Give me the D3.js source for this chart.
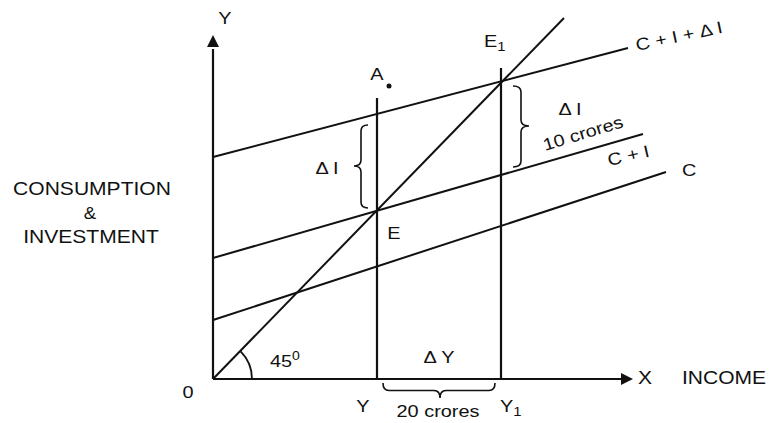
<!DOCTYPE html>
<html>
<head>
<meta charset="utf-8">
<script src="https://cdn.jsdelivr.net/npm/d3@7"></script>
<style>
  body { margin: 0; background: #fff; }
  text { font-family: "Liberation Sans", Arial, sans-serif; fill: #111; }
</style>
</head>
<body>
<script>
var w = 771;
var h = 423;

// income / expenditure units
var incomeLevels = [164, 288];            // Y, Y1
var incomeNames = ["Y", "Y1"];
var verticalTops = [281, 311];            // where the dotted verticals stop
var lineNames = ["C", "C + I", "C + I + \u0394I", "45"];
var lineStarts = [[0, 59], [0, 121], [0, 222], [0, 0]];
var lineEnds = [[453, 207], [430, 245], [415, 331], [351, 361]];
var equilibria = [[164, 167], [288, 294]]; // E, E1
var deltaI = 10;   // crores
var deltaY = 20;   // crores

var x = d3.scaleLinear().domain([0, 420]).range([213, 633]);
var y = d3.scaleLinear().domain([0, 344]).range([379, 35]);

var svg = d3.select("body")
            .append("svg")
            .attr("width", w)
            .attr("height", h);

var ink = "#111";
var sx = 1.17; // scanned lettering is a bit wide

function label(txt, px, py, size, anchor, rot) {
  var t = svg.append("text")
      .attr("transform", "translate(" + px + "," + py + ") rotate(" + (rot || 0) + ") scale(" + sx + ",1)")
      .attr("font-size", size)
      .attr("text-anchor", anchor || "middle");
  return t.text(txt);
}

function sub(base, s, px, py, size) {
  var t = svg.append("text")
      .attr("transform", "translate(" + px + "," + py + ") scale(" + sx + ",1)")
      .attr("font-size", size)
      .attr("text-anchor", "start");
  t.append("tspan").text(base);
  t.append("tspan").attr("font-size", size * 0.75).attr("dy", 4).text(s);
}

// axes
svg.append("line")
   .attr("x1", x(0)).attr("y1", y(0))
   .attr("x2", x(0)).attr("y2", y(330))
   .attr("stroke", ink).attr("stroke-width", 2.2);
svg.append("line")
   .attr("x1", x(0)).attr("y1", y(0))
   .attr("x2", x(410)).attr("y2", y(0))
   .attr("stroke", ink).attr("stroke-width", 2.2);
svg.append("path")
   .attr("d", "M" + (x(0) - 6) + "," + (y(344) + 12) + "L" + x(0) + "," + y(344) + "L" + (x(0) + 6) + "," + (y(344) + 12) + "Z")
   .attr("fill", ink);
svg.append("path")
   .attr("d", "M" + (x(420) - 12) + "," + (y(0) - 6) + "L" + x(420) + "," + y(0) + "L" + (x(420) - 12) + "," + (y(0) + 6) + "Z")
   .attr("fill", ink);

// schedules and the 45 degree line
svg.selectAll("line.sched")
   .data(lineNames)
   .enter()
   .append("line")
   .attr("class", "sched")
   .attr("x1", (d, i) => x(lineStarts[i][0]))
   .attr("y1", (d, i) => y(lineStarts[i][1]))
   .attr("x2", (d, i) => x(lineEnds[i][0]))
   .attr("y2", (d, i) => y(lineEnds[i][1]))
   .attr("stroke", ink)
   .attr("stroke-width", 2);

// verticals at Y and Y1
svg.selectAll("line.vert")
   .data(incomeLevels)
   .enter()
   .append("line")
   .attr("class", "vert")
   .attr("x1", d => x(d)).attr("x2", d => x(d))
   .attr("y1", y(0))
   .attr("y2", (d, i) => y(verticalTops[i]))
   .attr("stroke", ink)
   .attr("stroke-width", 2.2);

// 45 degree arc
svg.append("path")
   .attr("transform", "translate(" + x(0) + "," + y(0) + ")")
   .attr("d", d3.arc()({innerRadius: 39, outerRadius: 39, startAngle: Math.PI / 4, endAngle: Math.PI / 2}))
   .attr("fill", "none")
   .attr("stroke", ink)
   .attr("stroke-width", 1.8);

// curly braces
function vbrace(x0, ya, yb, ym, wd) {
  var s = x0 + wd / 2, c = x0 + wd, r = 6;
  return "M" + x0 + "," + ya +
    "Q" + s + "," + ya + " " + s + "," + (ya + r) +
    "L" + s + "," + (ym - r) +
    "Q" + s + "," + ym + " " + c + "," + ym +
    "Q" + s + "," + ym + " " + s + "," + (ym + r) +
    "L" + s + "," + (yb - r) +
    "Q" + s + "," + yb + " " + x0 + "," + yb;
}
function hbrace(y0, xa, xb, xm, ht) {
  var s = y0 + ht / 2, c = y0 + ht, r = 6;
  return "M" + xa + "," + y0 +
    "Q" + xa + "," + s + " " + (xa + r) + "," + s +
    "L" + (xm - r) + "," + s +
    "Q" + xm + "," + s + " " + xm + "," + c +
    "Q" + xm + "," + s + " " + (xm + r) + "," + s +
    "L" + (xb - r) + "," + s +
    "Q" + xb + "," + s + " " + xb + "," + y0;
}
var e = equilibria;
svg.append("path")
   .attr("d", vbrace(x(e[0][0]) - 9, y(e[0][1] + 87), y(e[0][1]) - 4, y(e[0][1] + 46), -14))
   .attr("fill", "none").attr("stroke", ink).attr("stroke-width", 1.6);
svg.append("path")
   .attr("d", vbrace(x(e[1][0]) + 12, y(e[1][1]) + 1, y(e[1][1] - 82), y(e[1][1] - 41), 16))
   .attr("fill", "none").attr("stroke", ink).attr("stroke-width", 1.6);
svg.append("path")
   .attr("d", hbrace(y(0) + 4, x(incomeLevels[0]) + 6, x(incomeLevels[1]) - 6, (x(incomeLevels[0]) + x(incomeLevels[1])) / 2 + 1, 15))
   .attr("fill", "none").attr("stroke", ink).attr("stroke-width", 1.6);

// point A
svg.append("circle").attr("cx", 389).attr("cy", 86).attr("r", 2.5).attr("fill", ink);

// labels
label("Y", 225, 24, 17);
label("A", 377, 80, 17);
sub("E", "1", 484, 47, 17);
label("E", 394, 239, 17);
label("\u0394 I", 327, 174, 17);
label("\u0394 I", 570, 115, 17);
label(deltaI + " crores", 545, 151, 17, "start", -17);
label(lineNames[1], 609, 166, 17, "start", -13);
label(lineNames[0], 682, 176, 17, "start");
label("C + I + \u0394 I", 637, 51, 17, "start", -12);
label("CONSUMPTION", 92, 195, 18);
label("&", 90, 219, 16);
label("INVESTMENT", 91, 243, 18);
label("0", 188, 398, 17);
svg.append("text")
   .attr("transform", "translate(270,367) scale(" + sx + ",1)")
   .attr("font-size", 17)
   .call(t => { t.append("tspan").text("45"); t.append("tspan").attr("font-size", 12).attr("dy", -7).text("0"); });
label("\u0394 Y", 439, 363, 17);
label(incomeNames[0], 363, 412, 17);
sub("Y", "1", 500, 412, 17);
label(deltaY + " crores", 438, 417, 17);
label("X", 645, 384, 18);
label("INCOME", 724, 384, 18);
</script>
</body>
</html>
